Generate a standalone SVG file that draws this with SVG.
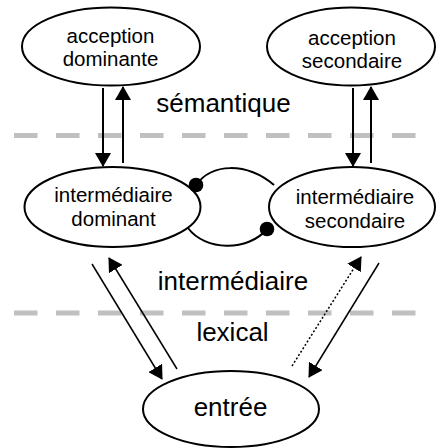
<svg xmlns="http://www.w3.org/2000/svg" width="436" height="448" viewBox="0 0 436 448">
<style>
.node ellipse{fill:#fff;stroke:#000;stroke-width:2}
.nt{font-family:"Liberation Sans",Arial,sans-serif;font-size:20.5px;fill:#000;text-anchor:middle}
.lab{font-family:"Liberation Sans",Arial,sans-serif;font-size:26px;fill:#000;text-anchor:middle}
.sep{stroke:#c0c0c0;stroke-width:5;stroke-dasharray:23.5 18.5;fill:none}
.c{stroke:#000;stroke-width:2;fill:none}
.d{stroke:#000;stroke-width:1.5;fill:none}
.dot{stroke:#000;stroke-width:1.5;stroke-dasharray:2 2;fill:none}
</style>
<defs>
<marker id="ah" viewBox="0 0 14 16" refX="13" refY="8" markerWidth="14" markerHeight="16" markerUnits="userSpaceOnUse" orient="auto">
<path d="M0,0 L14,8 L0,16 z" fill="#000"/>
</marker>
<marker id="ball" viewBox="0 0 16 16" refX="8" refY="8" markerWidth="16" markerHeight="16" markerUnits="userSpaceOnUse">
<circle cx="8" cy="8" r="7.3" fill="#000"/>
</marker>
</defs>
<g id="layers">
<line class="sep" x1="14" y1="135.5" x2="417" y2="135.5"/>
<line class="sep" x1="14" y1="313" x2="417" y2="313"/>
<text class="lab" x="223.5" y="112">sémantique</text>
<text class="lab" x="233" y="290">intermédiaire</text>
<text class="lab" x="232.5" y="341">lexical</text>
</g>
<g id="n-acc-dom" class="node">
<ellipse cx="111" cy="46.5" rx="89" ry="39"/>
<text class="nt" x="110.5" y="43">acception</text>
<text class="nt" x="110.5" y="65.5">dominante</text>
</g>
<g id="n-acc-sec" class="node">
<ellipse cx="351" cy="46.5" rx="84" ry="39"/>
<text class="nt" x="352" y="45">acception</text>
<text class="nt" x="352" y="68">secondaire</text>
</g>
<g id="n-int-dom" class="node">
<ellipse cx="112.5" cy="207" rx="88" ry="40"/>
<text class="nt" x="113.5" y="201.5">intermédiaire</text>
<text class="nt" x="113.5" y="226">dominant</text>
</g>
<g id="n-int-sec" class="node">
<ellipse cx="352" cy="207" rx="83" ry="40"/>
<text class="nt" x="355" y="204">intermédiaire</text>
<text class="nt" x="355" y="228">secondaire</text>
</g>
<g id="n-entree" class="node">
<ellipse cx="231" cy="409" rx="88" ry="38"/>
<text class="lab" x="230.5" y="416">entrée</text>
</g>
<g id="connectors">
<line class="c" x1="103" y1="88" x2="103" y2="166" marker-end="url(#ah)"/>
<line class="c" x1="123" y1="163" x2="123" y2="87" marker-end="url(#ah)"/>
<line class="c" x1="353" y1="88" x2="353" y2="166" marker-end="url(#ah)"/>
<line class="c" x1="371" y1="163" x2="371" y2="87" marker-end="url(#ah)"/>
<line class="d" x1="92" y1="264" x2="162" y2="379" marker-end="url(#ah)"/>
<line class="d" x1="177" y1="369" x2="109" y2="258" marker-end="url(#ah)"/>
<line class="d" x1="379" y1="263" x2="309" y2="377" marker-end="url(#ah)"/>
<line class="dot" x1="292" y1="366" x2="361" y2="257" marker-end="url(#ah)"/>
<path class="c" d="M196,185 C212,163 246,162 274,185" marker-start="url(#ball)"/>
<path class="c" d="M188,228 C205,251 248,252 267,229" marker-end="url(#ball)"/>
</g>
</svg>
